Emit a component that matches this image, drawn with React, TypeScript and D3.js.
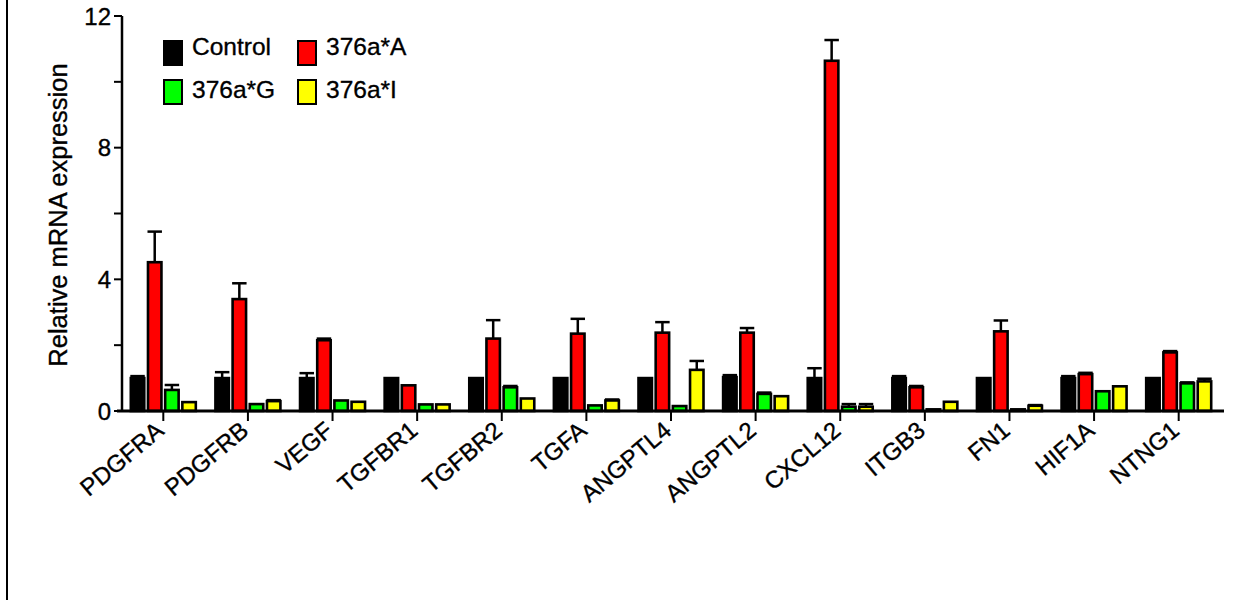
import React from 'react';
import * as d3 from 'd3';

const genes = ['PDGFRA', 'PDGFRB', 'VEGF', 'TGFBR1', 'TGFBR2', 'TGFA', 'ANGPTL4', 'ANGPTL2', 'CXCL12', 'ITGB3', 'FN1', 'HIF1A', 'NTNG1'];
const seriesNames = ['Control', '376a*A', '376a*G', '376a*I'];
const seriesColors = ['#000000', '#ff0000', '#00ff00', '#ffff00'];

const controlVals = [1, 1, 1, 1, 1, 1, 1, 1.03, 1, 1, 1, 1, 1];
const controlErr = [0.06, 0.18, 0.15, 0, 0, 0, 0, 0.06, 0.3, 0.06, 0, 0.06, 0];
const aVals = [4.52, 3.4, 2.15, 0.78, 2.2, 2.35, 2.38, 2.38, 10.64, 0.72, 2.42, 1.12, 1.78];
const aErr = [0.93, 0.48, 0.05, 0, 0.56, 0.45, 0.32, 0.14, 0.63, 0.04, 0.33, 0.04, 0.04];
const gVals = [0.64, 0.21, 0.32, 0.2, 0.72, 0.17, 0.15, 0.52, 0.13, 0.05, 0.05, 0.6, 0.84];
const gErr = [0.15, 0, 0, 0, 0.04, 0, 0, 0.04, 0.08, 0, 0, 0, 0.03];
const iVals = [0.27, 0.3, 0.28, 0.2, 0.38, 0.32, 1.25, 0.45, 0.13, 0.28, 0.16, 0.75, 0.9];
const iErr = [0, 0.03, 0, 0, 0, 0.03, 0.27, 0, 0.08, 0, 0.02, 0, 0.08];

const yTicks = [0, 2, 4, 6, 8, 10, 12];
const yLabels = ['0', '', '4', '', '8', '', '12'];

const allVals = [controlVals, aVals, gVals, iVals];
const allErr = [controlErr, aErr, gErr, iErr];

const font = 'Liberation Sans, Arial, sans-serif';

export default function App() {
  const W = 1253, H = 600;
  const x0 = d3.scaleBand<string>().domain(genes).range([121, 1221]).padding(0);
  const x1 = d3.scaleBand<string>().domain(seriesNames).range([-33.5, 33.5]).paddingInner(0.1);
  const y = d3.scaleLinear().domain([0, 12]).range([411, 16]);
  const cx = (g: string) => (x0(g) as number) + x0.bandwidth() / 2;

  // legend slots: box top-left and text baseline
  const legendItems = [
    { i: 0, x: 164, y: 41, ty: 55 },
    { i: 1, x: 298, y: 41, ty: 55 },
    { i: 2, x: 164, y: 80, ty: 98 },
    { i: 3, x: 298, y: 80, ty: 98 },
  ];

  const txt = { fill: '#000', stroke: '#000', strokeWidth: 0.35 };

  return (
    <svg width={W} height={H} style={{ position: 'absolute', left: 0, top: 0, background: '#fff' }} fontFamily={font}>
      <line x1={7} x2={7} y1={0} y2={H} stroke="#000" strokeWidth={2} />

      {/* bars */}
      {genes.map((g, gi) => (
        <g key={g} transform={`translate(${cx(g)},0)`}>
          {seriesNames.map((s, si) => {
            const v = allVals[si][gi];
            const e = allErr[si][gi];
            const bx = x1(s) as number;
            const bw = x1.bandwidth();
            const top = y(v);
            return (
              <g key={s}>
                {e > 0 && (
                  <g stroke="#000" strokeWidth={2.5}>
                    <line x1={bx + bw / 2} x2={bx + bw / 2} y1={top} y2={y(v + e)} />
                    <line x1={bx + 0.5} x2={bx + bw - 0.5} y1={y(v + e)} y2={y(v + e)} />
                  </g>
                )}
                <rect x={bx + 1} y={top} width={bw - 2} height={y(0) - top} fill={seriesColors[si]} stroke="#000" strokeWidth={2.6} />
              </g>
            );
          })}
        </g>
      ))}

      {/* y axis */}
      <line x1={122} x2={122} y1={y(12)} y2={y(0)} stroke="#000" strokeWidth={2.5} />
      {yTicks.map((t, i) => (
        <g key={t}>
          <line x1={114} x2={122} y1={y(t)} y2={y(t)} stroke="#000" strokeWidth={2} />
          <text x={111} y={y(t)} dy="0.36em" textAnchor="end" fontSize={24} {...txt}>{yLabels[i]}</text>
        </g>
      ))}
      <text transform={`translate(67,215) rotate(-90)`} textAnchor="middle" fontSize={25.5} {...txt}>Relative mRNA expression</text>

      {/* x axis */}
      <line x1={117} x2={1224} y1={411} y2={411} stroke="#000" strokeWidth={3} />
      {genes.map(g => (
        <g key={g}>
          <line x1={cx(g)} x2={cx(g)} y1={411} y2={421} stroke="#000" strokeWidth={2} />
          <text transform={`translate(${cx(g) + 2},433) rotate(-40)`} textAnchor="end" fontSize={24} {...txt}>{g}</text>
        </g>
      ))}

      {/* legend */}
      {legendItems.map(l => (
        <g key={l.i}>
          <rect x={l.x} y={l.y} width={18} height={24} fill={seriesColors[l.i]} stroke="#000" strokeWidth={2} />
          <text x={l.x + 28} y={l.ty} fontSize={24.5} {...txt}>{seriesNames[l.i]}</text>
        </g>
      ))}
    </svg>
  );
}
